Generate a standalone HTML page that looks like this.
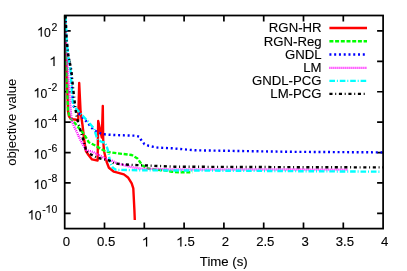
<!DOCTYPE html>
<html><head><meta charset="utf-8"><title>plot</title>
<style>html,body{margin:0;padding:0;background:#fff;overflow:hidden}body{width:407px;height:271px;position:relative}</style>
</head><body>
<svg width="407" height="271" viewBox="0 0 407 271" style="position:absolute;left:0;top:0;will-change:transform;font-family:'Liberation Sans',sans-serif;font-size:13.2px;fill:#000">
<rect x="0" y="0" width="407" height="271" fill="#fff"/>
<path d="M104.50 228.6 V222.6 M104.50 15.5 V21.5 M144.30 228.6 V222.6 M144.30 15.5 V21.5 M184.10 228.6 V222.6 M184.10 15.5 V21.5 M223.90 228.6 V222.6 M223.90 15.5 V21.5 M263.70 228.6 V222.6 M263.70 15.5 V21.5 M303.50 228.6 V222.6 M303.50 15.5 V21.5 M343.30 228.6 V222.6 M343.30 15.5 V21.5 M64.7 30.95 H70.7 M383.1 30.95 H377.1 M64.7 61.35 H70.7 M383.1 61.35 H377.1 M64.7 91.75 H70.7 M383.1 91.75 H377.1 M64.7 122.15 H70.7 M383.1 122.15 H377.1 M64.7 152.55 H70.7 M383.1 152.55 H377.1 M64.7 182.95 H70.7 M383.1 182.95 H377.1 M64.7 213.35 H70.7 M383.1 213.35 H377.1" fill="none" stroke="#000" stroke-width="1.7"/>
<g fill="none" stroke-width="2.4" stroke-linejoin="round" stroke-linecap="butt">
<path d="M65.1 15.5 L65.8 50.0 L66.6 70.0 L67.5 95.0 L68.1 111.7 L68.9 116.0 L70.5 118.5 L73.1 119.2 L76.4 119.8 L78.2 120.6 L79.2 83.0 L80.6 112.0 L82.5 125.0 L84.2 140.0 L85.9 151.0 L88.5 155.0 L92.0 159.4 L97.6 160.5 L98.2 121.0 L101.8 137.5 L102.8 106.0 L103.2 140.0 L104.0 151.0 L106.7 162.0 L108.9 167.8 L113.9 171.7 L123.9 174.4 L128.3 177.8 L131.7 183.3 L133.3 188.3 L134.4 210.0 L134.8 220.0" stroke="#ff0000"/>
<path d="M65.1 15.5 L65.8 50.0 L66.6 70.0 L67.5 95.0 L68.1 111.7 L70.9 118.9 L73.1 121.0 L84.2 134.4 L88.7 142.2 L95.3 145.5 L100.9 148.9 L106.0 151.7 L117.2 153.3 L131.7 155.0 L137.5 158.5 L140.0 162.0 L142.2 165.2 L146.7 168.3 L155.0 169.6 L166.0 170.6 L172.0 171.8 L180.0 172.3 L192.2 172.3" stroke="#00ff00" stroke-dasharray="4 1.7"/>
<path d="M65.5 15.5 L66.6 40.0 L68.0 55.0 L71.0 70.0 L72.5 96.0 L73.1 105.5 L78.4 113.0 L87.5 122.6 L93.0 129.3 L97.4 132.2 L101.9 133.9 L106.7 134.6 L116.0 135.1 L135.5 135.7 L139.4 136.7 L141.7 140.9 L144.5 144.1 L148.8 145.9 L157.8 147.6 L172.2 148.3 L195.0 150.3 L290.0 151.8 L383.0 152.4" stroke="#0000ff" stroke-dasharray="2 2.77"/>
<path d="M65.3 15.5 L66.2 50.0 L67.7 70.0 L69.8 100.0 L71.1 115.0 L72.1 122.2 L80.5 140.0 L86.0 150.0 L93.0 152.0 L106.4 159.0 L109.4 159.6 L117.2 163.3 L131.7 167.2 L140.0 168.6 L175.0 169.5 L347.8 169.6" stroke="#ff00ff" stroke-dasharray="1 1"/>
<path d="M65.5 15.5 L66.6 40.0 L68.0 55.0 L70.5 70.0 L72.5 99.4 L73.7 106.0 L80.1 113.0 L88.1 121.6 L94.1 128.6 L96.6 137.0 L98.0 140.2 L102.0 142.0 L105.0 142.6 L106.7 146.5 L108.3 151.5 L110.0 162.0 L112.8 167.8 L116.0 169.8 L140.0 170.3 L260.0 170.9 L315.0 171.3 L381.0 171.7" stroke="#00ffff" stroke-dasharray="5.6 1.9 1 1.9"/>
<path d="M65.5 15.5 L66.6 40.0 L68.3 55.0 L71.3 70.0 L73.3 90.0 L75.6 110.0 L77.0 118.0 L78.7 124.4 L85.3 146.7 L85.9 151.0 L89.8 153.9 L97.5 157.8 L109.4 160.5 L113.9 163.3 L122.8 164.4 L137.2 165.1 L175.0 166.7 L300.0 167.2 L383.0 167.4" stroke="#000000" stroke-dasharray="3.1 2.7 1 2.7"/>
<path d="M329.4 28.0 H367" stroke="#ff0000"/>
<path d="M329.4 41.3 H367" stroke="#00ff00" stroke-dasharray="4 1.7"/>
<path d="M329.4 54.5 H367" stroke="#0000ff" stroke-dasharray="2 2.77"/>
<path d="M329.4 67.9 H367" stroke="#ff00ff" stroke-dasharray="1 1"/>
<path d="M329.4 80.9 H367" stroke="#00ffff" stroke-dasharray="5.6 1.9 1 1.9"/>
<path d="M329.4 93.9 H367" stroke="#000000" stroke-dasharray="3.1 2.7 1 2.7"/>
</g>
<rect x="64.7" y="15.5" width="318.40000000000003" height="213.1" fill="none" stroke="#000" stroke-width="1.75"/>
<defs><mask id="tm" maskUnits="userSpaceOnUse" x="0" y="0" width="407" height="271"><rect x="0" y="0" width="407" height="271" fill="#fff"/></mask></defs><g mask="url(#tm)" stroke="#000" stroke-width="0.12">
<text x="321.60" y="32.30" text-anchor="end">RGN-HR</text>
<text x="321.60" y="45.50" text-anchor="end">RGN-Reg</text>
<text x="321.60" y="58.60" text-anchor="end">GNDL</text>
<text x="321.60" y="71.80" text-anchor="end">LM</text>
<text x="321.60" y="85.00" text-anchor="end">GNDL-PCG</text>
<text x="321.60" y="98.20" text-anchor="end">LM-PCG</text>
<text x="62.63" y="246.45" text-anchor="start">0</text>
<text x="96.93" y="246.45" text-anchor="start">0.5</text>
<path transform="translate(142.23 246.45) scale(0.00645 -0.00645)" d="M763 0H583V1147Q518 1085 400 1023Q290 961 170 930V1104Q350 1175 475 1276Q600 1377 647 1472H763Z" stroke-width="18.6"/>
<path transform="translate(176.53 246.45) scale(0.00645 -0.00645)" d="M763 0H583V1147Q518 1085 400 1023Q290 961 170 930V1104Q350 1175 475 1276Q600 1377 647 1472H763Z" stroke-width="18.6"/><text x="183.87" y="246.45" text-anchor="start">.5</text>
<text x="221.83" y="246.45" text-anchor="start">2</text>
<text x="256.13" y="246.45" text-anchor="start">2.5</text>
<text x="301.43" y="246.45" text-anchor="start">3</text>
<text x="335.73" y="246.45" text-anchor="start">3.5</text>
<text x="381.03" y="246.45" text-anchor="start">4</text>
<text x="223.80" y="265.70" text-anchor="middle">Time (s)</text>
<text x="51.46" y="30.55" text-anchor="start" font-size="10.5">2</text>
<path transform="translate(37.26 36.60) scale(0.00597 -0.00645)" d="M763 0H583V1147Q518 1085 400 1023Q290 961 170 930V1104Q350 1175 475 1276Q600 1377 647 1472H763Z" stroke-width="18.6"/><text x="44.06" y="36.60" text-anchor="start" textLength="6.80" lengthAdjust="spacingAndGlyphs">0</text>
<path transform="translate(49.66 65.95) scale(0.00645 -0.00645)" d="M763 0H583V1147Q518 1085 400 1023Q290 961 170 930V1104Q350 1175 475 1276Q600 1377 647 1472H763Z" stroke-width="18.6"/>
<text x="47.97" y="91.25" text-anchor="start" font-size="10.5">-2</text>
<path transform="translate(33.77 97.58) scale(0.00597 -0.00645)" d="M763 0H583V1147Q518 1085 400 1023Q290 961 170 930V1104Q350 1175 475 1276Q600 1377 647 1472H763Z" stroke-width="18.6"/><text x="40.57" y="97.58" text-anchor="start" textLength="6.80" lengthAdjust="spacingAndGlyphs">0</text>
<text x="47.97" y="121.60" text-anchor="start" font-size="10.5">-4</text>
<path transform="translate(33.77 128.08) scale(0.00597 -0.00645)" d="M763 0H583V1147Q518 1085 400 1023Q290 961 170 930V1104Q350 1175 475 1276Q600 1377 647 1472H763Z" stroke-width="18.6"/><text x="40.57" y="128.08" text-anchor="start" textLength="6.80" lengthAdjust="spacingAndGlyphs">0</text>
<text x="47.97" y="151.95" text-anchor="start" font-size="10.5">-6</text>
<path transform="translate(33.77 158.57) scale(0.00597 -0.00645)" d="M763 0H583V1147Q518 1085 400 1023Q290 961 170 930V1104Q350 1175 475 1276Q600 1377 647 1472H763Z" stroke-width="18.6"/><text x="40.57" y="158.57" text-anchor="start" textLength="6.80" lengthAdjust="spacingAndGlyphs">0</text>
<text x="47.97" y="182.30" text-anchor="start" font-size="10.5">-8</text>
<path transform="translate(33.77 189.06) scale(0.00597 -0.00645)" d="M763 0H583V1147Q518 1085 400 1023Q290 961 170 930V1104Q350 1175 475 1276Q600 1377 647 1472H763Z" stroke-width="18.6"/><text x="40.57" y="189.06" text-anchor="start" textLength="6.80" lengthAdjust="spacingAndGlyphs">0</text>
<text x="42.13" y="212.65" text-anchor="start" font-size="10.5">-</text><path transform="translate(45.62 212.65) scale(0.00513 -0.00513)" d="M763 0H583V1147Q518 1085 400 1023Q290 961 170 930V1104Q350 1175 475 1276Q600 1377 647 1472H763Z" stroke-width="23.4"/><text x="51.46" y="212.65" text-anchor="start" font-size="10.5">0</text>
<path transform="translate(27.93 219.55) scale(0.00597 -0.00645)" d="M763 0H583V1147Q518 1085 400 1023Q290 961 170 930V1104Q350 1175 475 1276Q600 1377 647 1472H763Z" stroke-width="18.6"/><text x="34.73" y="219.55" text-anchor="start" textLength="6.80" lengthAdjust="spacingAndGlyphs">0</text>
<text transform="translate(15.6 122.2) rotate(-90)" text-anchor="middle" stroke="none">objective value</text>
</g>
</svg>
</body></html>
